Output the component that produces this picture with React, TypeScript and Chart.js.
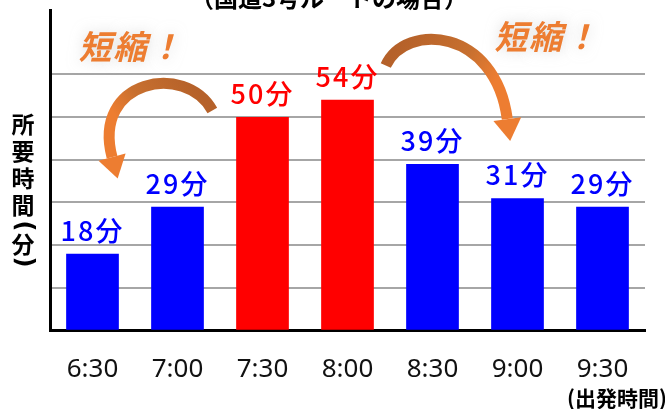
import React, { useEffect, useRef } from "react";
import { Chart, registerables } from "chart.js";

Chart.register(...registerables);

// ---- data ----
const categories = ["6:30", "7:00", "7:30", "8:00", "8:30", "9:00", "9:30"];
const minutes = [18, 29, 50, 54, 39, 31, 29];
const barColors = ["#0000FF", "#0000FF", "#FF0000", "#FF0000", "#0000FF", "#0000FF", "#0000FF"];
const valueLabels = minutes.map((v) => `${v}分`);
const yAxisChars = ["所", "要", "時", "間"];
const yAxisUnit = "分";
const titleText = "（国道3号ルートの場合）";
const xAxisNote = "(出発時間)";
const calloutText = "短縮！";
// annotation anchors in (category index, minutes)
const leftArrow = [[1.41, 51.5], [1.09, 62.9], [-0.01, 58.7], [0.23, 40.6]];
const rightArrow = [[3.45, 62.0], [3.68, 72.2], [4.74, 70.8], [4.88, 49.5]];
const callouts = [[0.49, 66.4], [5.38, 68.7]];

const JP = "'Noto Sans CJK JP', 'Noto Sans', sans-serif";

function drawArrow(ctx: CanvasRenderingContext2D, pts: number[][]) {
  const [p0, c1, c2, p3] = pts;
  let dx = p3[0] - c2[0];
  let dy = p3[1] - c2[1];
  const len = Math.hypot(dx, dy) || 1;
  dx /= len;
  dy /= len;
  const tip = [p3[0] + dx * 22, p3[1] + dy * 22];
  const grad = ctx.createLinearGradient(p0[0], p0[1], tip[0], tip[1]);
  grad.addColorStop(0, "#B5612A");
  grad.addColorStop(0.45, "#C8702F");
  grad.addColorStop(0.7, "#ED7D31");
  grad.addColorStop(1, "#ED7D31");
  ctx.save();
  ctx.strokeStyle = grad;
  ctx.lineWidth = 11;
  ctx.lineCap = "butt";
  ctx.beginPath();
  ctx.moveTo(p0[0], p0[1]);
  ctx.bezierCurveTo(c1[0], c1[1], c2[0], c2[1], p3[0], p3[1]);
  ctx.stroke();
  const px = -dy;
  const py = dx;
  ctx.fillStyle = "#ED7D31";
  ctx.beginPath();
  ctx.moveTo(p3[0] + px * 14, p3[1] + py * 14);
  ctx.lineTo(tip[0], tip[1]);
  ctx.lineTo(p3[0] - px * 14, p3[1] - py * 14);
  ctx.closePath();
  ctx.fill();
  ctx.restore();
}

const annotatePlugin = {
  id: "annotate",
  afterDatasetsDraw(chart: any) {
    const { ctx, scales } = chart;
    const xs = scales.x;
    const ys = scales.y;
    const toPx = (p: number[]) => [xs.getPixelForValue(p[0]), ys.getPixelForValue(p[1])];

    // value labels
    const meta = chart.getDatasetMeta(0);
    ctx.save();
    ctx.font = `500 27px ${JP}`;
    (ctx as any).letterSpacing = "2px";
    ctx.textAlign = "center";
    ctx.textBaseline = "middle";
    meta.data.forEach((bar: any, i: number) => {
      ctx.fillStyle = barColors[i];
      ctx.fillText(valueLabels[i], bar.x, bar.y - 23);
    });
    ctx.restore();

    // arrows
    drawArrow(ctx, leftArrow.map(toPx));
    drawArrow(ctx, rightArrow.map(toPx));

    // callouts
    callouts.forEach((c) => {
      const [cx, cy] = toPx(c);
      ctx.save();
      ctx.translate(cx, cy);
      ctx.transform(1, 0, -0.25, 1, 0, 0);
      ctx.font = `bold 33px ${JP}`;
      (ctx as any).letterSpacing = "2px";
      ctx.textAlign = "center";
      ctx.textBaseline = "middle";
      ctx.shadowColor = "rgba(190,190,190,0.55)";
      ctx.shadowBlur = 14;
      ctx.fillStyle = "#ED7D31";
      ctx.fillText(calloutText, 0, 0);
      ctx.restore();
    });

    // title (cut off at the top)
    ctx.save();
    ctx.font = `bold 24px ${JP}`;
    ctx.fillStyle = "#000";
    ctx.textAlign = "center";
    ctx.textBaseline = "alphabetic";
    ctx.fillText(titleText, 329, 7);
    ctx.restore();

    // y axis label (vertical stacked)
    ctx.save();
    ctx.font = `bold 23px ${JP}`;
    ctx.fillStyle = "#000";
    ctx.textAlign = "center";
    ctx.textBaseline = "middle";
    const lx = 23;
    const ysChars = [124, 151, 178, 205];
    yAxisChars.forEach((ch, i) => ctx.fillText(ch, lx, ysChars[i]));
    ctx.fillText(yAxisUnit, lx, 244);
    const parens = [["(", 226], [")", 262]];
    parens.forEach(([p, yy]) => {
      ctx.save();
      ctx.translate(lx, yy as number);
      ctx.rotate(Math.PI / 2);
      ctx.font = "bold 24px 'DejaVu Sans', sans-serif";
      ctx.fillText(p as string, 0, 0);
      ctx.restore();
    });
    ctx.restore();

    // x axis note
    ctx.save();
    ctx.font = `bold 21px ${JP}`;
    ctx.fillStyle = "#000";
    ctx.textAlign = "right";
    ctx.textBaseline = "middle";
    ctx.fillText(xAxisNote, 667, 398);
    ctx.restore();
  },
};

export default function App() {
  const ref = useRef<HTMLCanvasElement | null>(null);
  useEffect(() => {
    if (!ref.current) return;
    const chart = new Chart(ref.current, {
      type: "bar",
      data: {
        labels: categories,
        datasets: [
          {
            data: minutes,
            backgroundColor: barColors,
            borderWidth: 0,
            barPercentage: 0.62,
            categoryPercentage: 1,
          },
        ],
      },
      options: {
        responsive: false,
        animation: false,
        devicePixelRatio: 1,
        layout: { padding: { left: 50, right: 20, top: 10, bottom: 1 } },
        plugins: { legend: { display: false }, tooltip: { enabled: false }, title: { display: false } },
        scales: {
          x: {
            grid: { display: false, drawTicks: false },
            border: { display: true, color: "#000", width: 3 },
            ticks: { color: "#111", font: { family: "'Noto Sans', sans-serif", size: 26 }, padding: 23 },
          },
          y: {
            min: 0,
            max: 75,
            ticks: { display: false, stepSize: 10 },
            grid: {
              drawTicks: false,
              lineWidth: 2,
              color: (c: any) =>
                c.tick && c.tick.value > 0 && c.tick.value <= 60 ? "#A6A6A6" : "rgba(0,0,0,0)",
            },
            border: { display: true, color: "#000", width: 3 },
          },
        },
      },
      plugins: [annotatePlugin],
    });
    return () => chart.destroy();
  }, []);
  return (
    <div style={{ position: "absolute", left: 0, top: 0, width: 665, height: 409, background: "#fff" }}>
      <canvas ref={ref} width={665} height={409} />
    </div>
  );
}
